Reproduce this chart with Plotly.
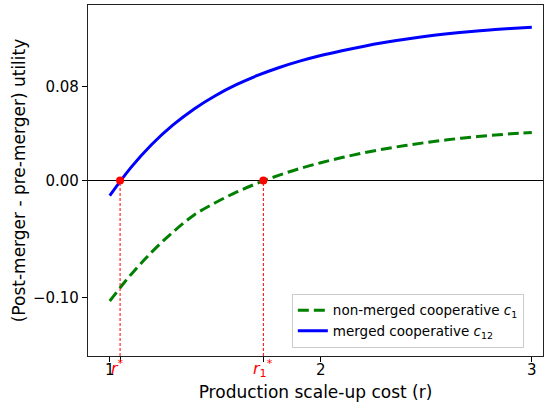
import plotly.graph_objects as go

# ---- data ----
r_values = [1.0, 1.1, 1.2, 1.3, 1.4, 1.5, 1.6, 1.7, 1.8, 1.9, 2.0,
            2.1, 2.2, 2.3, 2.4, 2.5, 2.6, 2.7, 2.8, 2.9, 3.0]
merged_c12 = [-0.013, 0.011, 0.031, 0.0475, 0.0612, 0.0725, 0.0819, 0.0898,
              0.0964, 0.1020, 0.1068, 0.1109, 0.1146, 0.1179, 0.1208, 0.1233,
              0.1254, 0.1272, 0.1287, 0.1299, 0.1309]
non_merged_c1 = [-0.103, -0.0805, -0.061, -0.044, -0.0295, -0.019, -0.010,
                 -0.0023, 0.0044, 0.0102, 0.0152, 0.0196, 0.0235, 0.0269,
                 0.0299, 0.0325, 0.0348, 0.0368, 0.0385, 0.0399, 0.0410]
r_star = 1.049     # zero crossing of merged curve
r1_star = 1.728    # zero crossing of non-merged curve
x_ticks = [1, 2, 3]
y_ticks = [-0.10, 0.00, 0.08]
y_tick_labels = ["\u22120.10", "0.00", "0.08"]
y_min, y_max = -0.15, 0.15
x_min, x_max = 0.897, 3.053

FONT = "DejaVu Sans"

fig = go.Figure()

fig.add_trace(go.Scatter(
    x=r_values, y=non_merged_c1, mode="lines", line_shape="spline",
    line=dict(color="green", width=3, dash="11px,5px"),
    name="non-merged cooperative <i>c</i><sub>1</sub>"))
fig.add_trace(go.Scatter(
    x=r_values, y=merged_c12, mode="lines", line_shape="spline",
    line=dict(color="blue", width=3),
    name="merged cooperative <i>c</i><sub>12</sub>"))

for rc in (r_star, r1_star):
    fig.add_trace(go.Scatter(
        x=[rc, rc], y=[y_min, 0], mode="lines",
        line=dict(color="red", width=1, dash="3px,2px"),
        showlegend=False, hoverinfo="skip"))
fig.add_trace(go.Scatter(
    x=[r_star, r1_star], y=[0, 0], mode="markers",
    marker=dict(color="red", size=8), showlegend=False))

all_ticks = [x_ticks[0], r_star, r1_star, x_ticks[1], x_ticks[2]]
fig.update_xaxes(
    range=[x_min, x_max], tickvals=all_ticks,
    ticktext=["1", "", "", "2", "3"],
    ticks="outside", ticklen=5, tickwidth=1, tickcolor="black",
    ticklabelstandoff=-5,
    showline=True, linecolor="#222", linewidth=1.2, mirror=True,
    showgrid=False, zeroline=False,
    tickfont=dict(family=FONT, size=15, color="black"),
    title=dict(text="Production scale-up cost (r)",
               font=dict(family=FONT, size=17, color="black"), standoff=8))
fig.update_yaxes(
    range=[y_min, y_max], tickvals=y_ticks, ticktext=y_tick_labels,
    ticks="outside", ticklen=5, tickwidth=1, tickcolor="black",
    showline=True, linecolor="#222", linewidth=1.2, mirror=True,
    showgrid=False, zeroline=True, zerolinecolor="black", zerolinewidth=1,
    tickfont=dict(family=FONT, size=15, color="black"),
    title=dict(text="(Post-merger - pre-merger) utility",
               font=dict(family=FONT, size=17, color="black"), standoff=2))

fig.add_annotation(x=r_star, y=0, xref="x", yref="paper", yanchor="top",
                   xanchor="center", xshift=-3, yshift=1, showarrow=False,
                   text="<i>r</i><sup>*</sup>",
                   font=dict(family=FONT, size=16, color="red"))
fig.add_annotation(x=r1_star, y=0, xref="x", yref="paper", yanchor="top",
                   xanchor="center", yshift=1, showarrow=False,
                   text="<i>r</i><sub>1</sub><sup>*</sup>",
                   font=dict(family=FONT, size=16, color="red"))

fig.update_layout(
    width=544, height=406,
    margin=dict(l=88, r=1, t=5, b=50),
    paper_bgcolor="white", plot_bgcolor="white",
    font=dict(family=FONT),
    legend=dict(x=0.448, y=0.023, xanchor="left", yanchor="bottom",
                bgcolor="rgba(255,255,255,0.9)", bordercolor="#cccccc",
                borderwidth=1, itemwidth=30,
                font=dict(family=FONT, size=13.5, color="black")),
)

fig.write_html("out.html", config={"displayModeBar": False},
               post_script="document.body.style.margin='0';")
